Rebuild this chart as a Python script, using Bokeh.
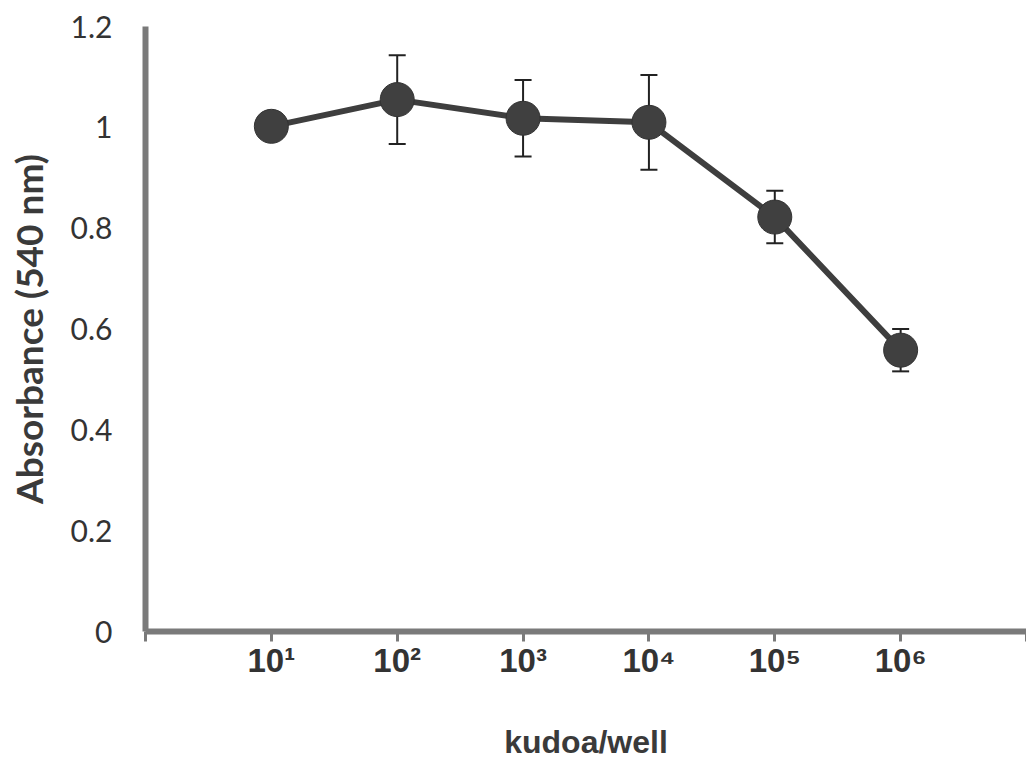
from bokeh.plotting import figure
from bokeh.models import ColumnDataSource, Whisker, TeeHead, FixedTicker, Range1d
from bokeh.embed import file_html
from bokeh.resources import INLINE

# ---- data ----
categories = ["10¹", "10²", "10³", "10⁴", "10⁵", "10⁶"]
absorbance = [1.002, 1.055, 1.018, 1.010, 0.822, 0.558]
error = [0.015, 0.088, 0.076, 0.094, 0.052, 0.042]
y_ticks = [0, 0.2, 0.4, 0.6, 0.8, 1.0, 1.2]
y_tick_labels = ["0", "0.2", "0.4", "0.6", "0.8", "1", "1.2"]
x_title = "kudoa/well"
y_title = "Absorbance (540 nm)"

positions = list(range(1, len(categories) + 1))
src = ColumnDataSource(dict(
    x=positions,
    y=absorbance,
    upper=[a + e for a, e in zip(absorbance, error)],
    lower=[a - e for a, e in zip(absorbance, error)],
))

p = figure(width=1026, height=762, output_backend="svg", toolbar_location=None,
           x_range=Range1d(0, len(categories) + 1), y_range=Range1d(0, 1.2),
           min_border_left=145, min_border_right=0, min_border_top=26,
           min_border_bottom=128)
p.outline_line_color = None
p.xgrid.visible = False
p.ygrid.visible = False
p.background_fill_color = "white"
p.border_fill_color = "white"

w = Whisker(base="x", upper="upper", lower="lower", source=src,
            line_color="#222222", line_width=2,
            upper_head=TeeHead(size=17, line_color="#222222", line_width=2),
            lower_head=TeeHead(size=17, line_color="#222222", line_width=2))
w.level = "underlay"
p.add_layout(w)

p.line("x", "y", source=src, line_width=6, line_color="#3e3e3e")
p.scatter("x", "y", source=src, size=34, fill_color="#404040",
          line_color="#333333", line_width=1)

# y axis
ya = p.yaxis[0]
ya.ticker = FixedTicker(ticks=y_ticks)
ya.major_label_overrides = {t: l for t, l in zip(y_ticks, y_tick_labels)}
ya.axis_line_width = 6
ya.axis_line_color = "#7a7a7a"
ya.major_tick_out = 0
ya.major_tick_in = 0
ya.minor_tick_out = 0
ya.minor_tick_in = 0
ya.major_label_standoff = 33
ya.major_label_text_font = "Lato"
ya.major_label_text_font_size = "30px"
ya.major_label_text_color = "#333333"
ya.axis_label = y_title
ya.axis_label_text_font = "Lato"
ya.axis_label_text_font_style = "bold"
ya.axis_label_text_font_size = "37px"
ya.axis_label_text_color = "#3a3a3a"
ya.axis_label_standoff = 17

# x axis
xa = p.xaxis[0]
xa.ticker = FixedTicker(ticks=list(range(0, len(categories) + 2)))
overrides = {0: "", len(categories) + 1: ""}
overrides.update({pos: c for pos, c in zip(positions, categories)})
xa.major_label_overrides = overrides
xa.axis_line_width = 6
xa.axis_line_color = "#7a7a7a"
xa.major_tick_out = 10
xa.major_tick_in = 0
xa.major_tick_line_width = 3
xa.major_tick_line_color = "#7a7a7a"
xa.minor_tick_out = 0
xa.minor_tick_in = 0
xa.major_label_standoff = 0
xa.major_label_text_font = "Liberation Sans"
xa.major_label_text_font_style = "bold"
xa.major_label_text_font_size = "33px"
xa.major_label_text_color = "#333333"
xa.axis_label = x_title
xa.axis_label_text_font = "Liberation Sans"
xa.axis_label_text_font_style = "bold"
xa.axis_label_text_font_size = "32px"
xa.axis_label_text_color = "#3a3a3a"
xa.axis_label_standoff = 42

open("out.html", "w").write(file_html(p, INLINE))
